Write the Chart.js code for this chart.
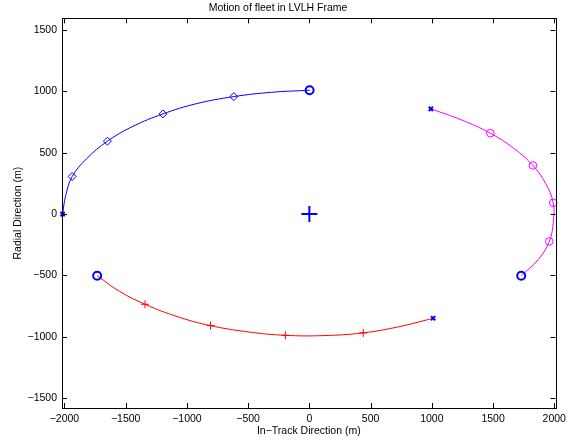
<!DOCTYPE html>
<html>
<head>
<meta charset="utf-8">
<script src="https://cdn.jsdelivr.net/npm/chart.js@4/dist/chart.umd.min.js"></script>
<style>
  html, body { margin: 0; padding: 0; background: #fff; }
  #wrap { width: 571px; height: 440px; }
</style>
</head>
<body>
<div id="wrap"><canvas id="fleetChart" width="571" height="440"></canvas></div>
<script>
// orbit arcs (m)
const blueArcX = [-2015, -1990, -1937, -1820, -1649, -1440, -1196, -920, -617, -310, 2];
const blueArcY = [0, 150, 306, 450, 594, 715, 816, 900, 957, 992, 1009];
const magArcX = [992, 1240, 1478, 1670, 1826, 1930, 1991, 1992, 1959, 1870, 1730];
const magArcY = [857, 768, 659, 535, 396, 248, 92, -65, -223, -370, -502];
const redArcX = [-1733, -1550, -1342, -1080, -807, -500, -196, 120, 440, 730, 1011];
const redArcY = [-502, -630, -735, -835, -909, -960, -988, -990, -968, -918, -849];

// markers
const diamondX = [-1937, -1649, -1196, -617];
const diamondY = [306, 594, 816, 957];
const magCircX = [1478, 1826, 1991, 1959];
const magCircY = [659, 396, 92, -223];
const redPlusX = [-1342, -807, -196, 440];
const redPlusY = [-735, -909, -988, -968];
const startX = [-2015, 992, 1011];   // blue x
const startY = [0, 857, -849];
const endX = [2, 1730, -1733];       // blue o
const endY = [1009, -502, -502];
const centerX = [0];
const centerY = [0];

const xTicks = [-2000, -1500, -1000, -500, 0, 500, 1000, 1500, 2000];
const yTicks = [-1500, -1000, -500, 0, 500, 1000, 1500];

const pts = (xs, ys) => xs.map((x, i) => ({ x: x, y: ys[i] }));
const FONT = 'Liberation Sans, Arial, Helvetica, sans-serif';
const fmt = v => String(v).replace('-', '\u2212');

// MATLAB style box with inward ticks
const boxPlugin = {
    id: 'matlabBox',
    afterDatasetsDraw(chart) {
        const { ctx, chartArea: a, scales } = chart;
        ctx.save();
        ctx.strokeStyle = '#000';
        ctx.lineWidth = 1;
        ctx.strokeRect(Math.round(a.left) + 0.5, Math.round(a.top) + 0.5,
            Math.round(a.right - a.left), Math.round(a.bottom - a.top));
        const tl = 5;
        ctx.beginPath();
        xTicks.forEach(v => {
            const px = Math.round(scales.x.getPixelForValue(v)) + 0.5;
            ctx.moveTo(px, a.bottom); ctx.lineTo(px, a.bottom - tl);
            ctx.moveTo(px, a.top); ctx.lineTo(px, a.top + tl);
        });
        yTicks.forEach(v => {
            const py = Math.round(scales.y.getPixelForValue(v)) + 0.5;
            ctx.moveTo(a.left, py); ctx.lineTo(a.left + tl, py);
            ctx.moveTo(a.right, py); ctx.lineTo(a.right - tl, py);
        });
        ctx.stroke();
        ctx.restore();
    }
};

const ctx = document.getElementById('fleetChart').getContext('2d');
new Chart(ctx, {
    type: 'scatter',
    data: {
        datasets: [
            { data: pts(centerX, centerY), pointStyle: 'cross', pointRadius: 8, borderColor: '#0000ff', borderWidth: 2, clip: false },
            { data: pts(endX, endY), pointStyle: 'circle', pointRadius: 4, borderColor: '#0000ff', backgroundColor: 'rgba(0,0,0,0)', borderWidth: 2, clip: false },
            { data: pts(startX, startY), pointStyle: 'crossRot', pointRadius: 3, borderColor: '#0000ff', borderWidth: 2, clip: false },
            { data: pts(diamondX, diamondY), pointStyle: 'rectRot', pointRadius: 4, borderColor: '#0000ff', backgroundColor: 'rgba(0,0,0,0)', borderWidth: 1, clip: false },
            { data: pts(magCircX, magCircY), pointStyle: 'circle', pointRadius: 3.8, borderColor: '#ff00ff', backgroundColor: 'rgba(0,0,0,0)', borderWidth: 1, clip: false },
            { data: pts(redPlusX, redPlusY), pointStyle: 'cross', pointRadius: 4, borderColor: '#ff0000', borderWidth: 1, clip: false },
            { data: pts(blueArcX, blueArcY), showLine: true, tension: 0.4, pointRadius: 0, borderColor: '#0000ff', borderWidth: 1 },
            { data: pts(magArcX, magArcY), showLine: true, tension: 0.4, pointRadius: 0, borderColor: '#ff00ff', borderWidth: 1 },
            { data: pts(redArcX, redArcY), showLine: true, tension: 0.4, pointRadius: 0, borderColor: '#ff0000', borderWidth: 1 }
        ]
    },
    options: {
        responsive: false,
        animation: false,
        layout: { padding: { left: 0, right: 15, top: 0, bottom: 0 } },
        plugins: {
            legend: { display: false },
            tooltip: { enabled: false },
            title: {
                display: true,
                text: 'Motion of fleet in LVLH Frame',
                color: '#000',
                font: { family: FONT, size: 10.5, weight: 'normal' },
                padding: { top: 1.5, bottom: 4.2 }
            }
        },
        scales: {
            x: {
                type: 'linear',
                min: -2020, max: 2010,
                grid: { display: false, drawTicks: false },
                border: { display: false },
                ticks: { padding: 5, color: '#000', maxRotation: 0, autoSkip: false,
                    font: { family: FONT, size: 10.5 }, callback: fmt },
                afterBuildTicks: s => { s.ticks = xTicks.map(v => ({ value: v })); },
                title: { display: true, text: 'In\u2212Track Direction (m)', color: '#000',
                    font: { family: FONT, size: 10.5 }, padding: { top: 0, bottom: 2.5 } },
                afterFit: s => { s.height = 32; }
            },
            y: {
                type: 'linear',
                min: -1580, max: 1595,
                grid: { display: false, drawTicks: false },
                border: { display: false },
                ticks: { padding: 5, color: '#000', autoSkip: false,
                    font: { family: FONT, size: 10.5 }, callback: fmt },
                afterBuildTicks: s => { s.ticks = yTicks.map(v => ({ value: v })); },
                title: { display: true, text: 'Radial Direction (m)', color: '#000',
                    font: { family: FONT, size: 10.5 }, padding: { top: 11.5, bottom: 0 } },
                afterFit: s => { s.width = 62; }
            }
        }
    },
    plugins: [boxPlugin]
});
</script>
</body>
</html>
